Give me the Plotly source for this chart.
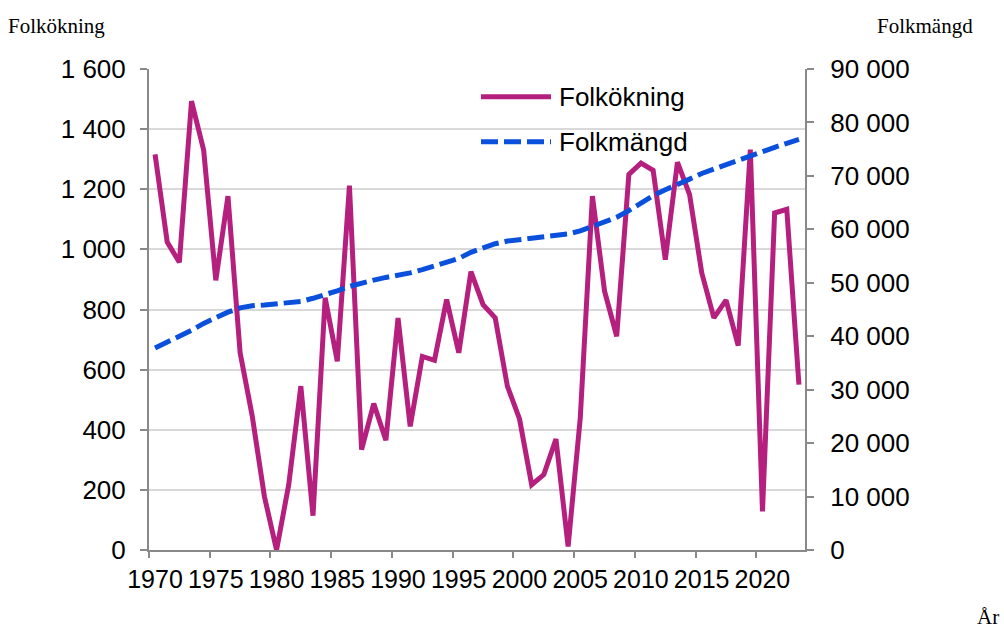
import plotly.graph_objects as go

# ---------------- data ----------------
years = list(range(1970, 2024))
folkokning = [1316, 1024, 957, 1493, 1330, 897, 1177, 656, 445, 178,
              0, 217, 545, 114, 839, 628, 1212, 334, 487, 365,
              772, 411, 644, 631, 833, 656, 926, 816, 772, 545,
              436, 217, 251, 369, 12, 439, 1177, 861, 711, 1249,
              1287, 1263, 966, 1290, 1182, 922, 772, 831, 680, 1332,
              128, 1121, 1133, 550]
folkmangd = [37800, 38900, 39800, 41100, 42400, 43500, 44500, 45300, 45700, 45850,
             46000, 46250, 46500, 47100, 47700, 48500, 49300, 50000, 50500, 51000,
             51400, 51850, 52450, 53100, 53850, 54560, 55700, 56600, 57300, 57800,
             58100, 58400, 58550, 58800, 59150, 59700, 60600, 61400, 62250, 63500,
             65000, 66300, 67400, 68300, 69400, 70450, 71300, 72100, 72900, 73700,
             74500, 75350, 76100, 76850]
x_tick_labels = ["1970", "1975", "1980", "1985", "1990", "1995",
                 "2000", "2005", "2010", "2015", "2020"]
series_names = ["Folkökning", "Folkmängd"]
left_title = "Folkökning"
right_title = "Folkmängd"
x_title = "År"

# ---------------- style ----------------
OFF = 0  # page body margin (removed by post_script)
W, H = 1004, 629
ML, MT = 149, 69
PW, PH = 656, 481
MR = W - ML - PW
MB = H - MT - PH
PINK = "#B5207F"
BLUE = "#0A50DC"
AXIS = "#898989"
GRID = "#D9D9D9"
SANS = "Liberation Sans, Arial, sans-serif"
SERIF = "Liberation Serif, Times New Roman, serif"


def fx(px):  # page pixel -> paper
    return (px - OFF - ML) / PW


def fy(py):
    return (MT + PH - (py - OFF)) / PH


fig = go.Figure()
fig.add_trace(go.Scatter(x=years, y=folkokning, name=series_names[0], mode="lines",
                         line=dict(color=PINK, width=5), yaxis="y"))
fig.add_trace(go.Scatter(x=years, y=folkmangd, name=series_names[1], mode="lines",
                         line=dict(color=BLUE, width=5, dash="17px,6px"), yaxis="y2"))

# tick marks sit on category boundaries, labels at category centres
tickvals = [int(t) - 0.5 for t in x_tick_labels]

fig.update_layout(
    width=W, height=H,
    margin=dict(l=ML, r=MR, t=MT, b=MB, pad=0),
    paper_bgcolor="white", plot_bgcolor="white",
    showlegend=False,
    separators=", ",
    font=dict(family=SANS, size=25, color="black"),
    xaxis=dict(range=[years[0] - 0.5, years[-1] + 0.5], tickmode="array",
               tickvals=tickvals, ticktext=x_tick_labels, ticklabelshift=6,
               ticks="outside", ticklen=6, tickwidth=2, tickcolor=AXIS,
               showline=True, linecolor=AXIS, linewidth=2, showgrid=False,
               zeroline=False, ticklabelstandoff=0,
               tickfont=dict(family=SANS, size=25)),
    yaxis=dict(range=[0, 1600], tickmode="linear", tick0=0, dtick=200,
               separatethousands=True, exponentformat="none",
               ticks="outside", ticklen=7, tickwidth=2, tickcolor=AXIS,
               showline=True, linecolor=AXIS, linewidth=2,
               showgrid=True, gridcolor=GRID, gridwidth=2, zeroline=False,
               ticklabelstandoff=9, tickfont=dict(family=SANS, size=26)),
    yaxis2=dict(range=[0, 90000], tickmode="linear", tick0=0, dtick=10000,
                separatethousands=True, exponentformat="none",
                overlaying="y", side="right",
                ticks="outside", ticklen=7, tickwidth=2, tickcolor=AXIS,
                showline=True, linecolor=AXIS, linewidth=2,
                showgrid=False, zeroline=False,
                ticklabelstandoff=11, tickfont=dict(family=SANS, size=26)),
)

# manual legend
leg_y = [96.7, 141.7]
fig.add_shape(type="line", xref="paper", yref="paper",
              x0=fx(481), x1=fx(551), y0=fy(leg_y[0]), y1=fy(leg_y[0]),
              line=dict(color=PINK, width=5))
fig.add_shape(type="line", xref="paper", yref="paper",
              x0=fx(481), x1=fx(551), y0=fy(leg_y[1]), y1=fy(leg_y[1]),
              line=dict(color=BLUE, width=5, dash="17px,6px"))
for name, yy in zip(series_names, leg_y):
    fig.add_annotation(text=name, xref="paper", yref="paper", x=fx(557), y=fy(yy),
                       xanchor="left", yanchor="middle", showarrow=False,
                       font=dict(family=SANS, size=26, color="black"))

# axis titles
fig.add_annotation(text=left_title, xref="paper", yref="paper", x=fx(6), y=fy(26),
                   xanchor="left", yanchor="middle", showarrow=False,
                   font=dict(family=SERIF, size=21, color="black"))
fig.add_annotation(text=right_title, xref="paper", yref="paper", x=fx(975), y=fy(26),
                   xanchor="right", yanchor="middle", showarrow=False,
                   font=dict(family=SERIF, size=21, color="black"))
fig.add_annotation(text=x_title, xref="paper", yref="paper", x=fx(1001), y=fy(617),
                   xanchor="right", yanchor="middle", showarrow=False,
                   font=dict(family=SERIF, size=21, color="black"))

fig.write_html("out.html",
               config={"displayModeBar": False},
               post_script="document.body.style.margin='0';"
                           "document.body.style.overflow='hidden';")
